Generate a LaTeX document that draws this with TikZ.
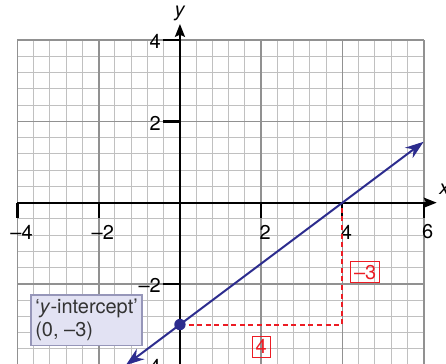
\documentclass[tikz,border=0pt]{standalone}
\usepackage{fontspec}
\setmainfont{TeX Gyre Heros}
\usetikzlibrary{arrows.meta, positioning}
\definecolor{gridminor}{RGB}{192,192,192}
\definecolor{gridmajor}{RGB}{145,145,145}
\definecolor{lineblue}{RGB}{44,44,142}
\definecolor{boxfill}{RGB}{226,226,243}
\definecolor{boxedge}{RGB}{150,150,185}
\definecolor{stepred}{RGB}{236,28,36}

\begin{document}
\begin{tikzpicture}[line width=1pt, font=\fontsize{14}{16}\selectfont,
    minorgrid/.style={draw=gridminor, line width=0.7pt},
    majorgrid/.style={draw=gridmajor, line width=1.2pt},
    axis/.style={line width=1.5pt, -{Stealth[length=9pt, width=7pt, inset=1.5pt]}},
    axtick/.style={line width=1.5pt},
    graphline/.style={draw=lineblue, line width=1.4pt, {Stealth[length=13pt, width=9pt]}-{Stealth[length=13pt, width=9pt]}},
    stepline/.style={draw=stepred, line width=1.4pt, dash pattern=on 3.5pt off 2.5pt},
    stepbox/.style={draw=stepred, text=stepred, line width=0.7pt, inner sep=2.5pt},
    infobox/.style={draw=boxedge, fill=boxfill, text=black!80, line width=0.9pt, align=left, inner sep=3pt}]
        \useasboundingbox (-4.43,-3.97) rectangle (6.55,4.99);

        % Grid
        \draw[minorgrid] (-4,-4.4) grid[step=0.4] (6,4);
        \draw[majorgrid] (-4,-4.4) grid[step=2] (6,4);

        % Axes
        \draw[axis] (-4,0) -- (6.32,0);
        \draw[axis] (0,-4.4) -- (0,4.4);
        \node (xlab) at (6.52,0.32) {\textit{x}};
        \node (ylab) at (0,4.66) {\textit{y}};

        % Ticks and numbers
        \foreach \x/\t in {-4/–4, -2/–2, 2/2, 4/4, 6/6} {
            \draw[axtick] (\x,0) -- (\x,-0.38);
            \node at (\x+0.1,-0.72) {\t};
        }
        \foreach \y/\t in {4/4, 2/2, -2/–2, -4/–4} {
            \draw[axtick] (0,\y) -- (-0.42,\y);
            \node[left, inner sep=1pt] at (-0.42,\y-0.04) {\t};
        }

        % Line y = 3/4 x - 3
        \coordinate (lowEnd) at (-1.333,-4);
        \coordinate (highEnd) at (6,1.5);
        \coordinate (xint) at (4,0);
        \coordinate (corner) at (4,-3);
        \coordinate (yint) at (0,-3);

        % Run and rise
        \draw[stepline] (yint) -- (corner) -- (xint);
        \node[stepbox] (run) at (2,-3.55) {4};
        \node[stepbox] (rise) at (4.56,-1.71) {–3};

        \draw[graphline] (lowEnd) -- (highEnd);
        \fill[lineblue] (yint) circle (0.14);

        % Intercept label
        \node[infobox] (intlabel) at (-2.3,-2.89) {‘\textit{y}-intercept’\\(0, –3)};

    \end{tikzpicture}
\end{document}
